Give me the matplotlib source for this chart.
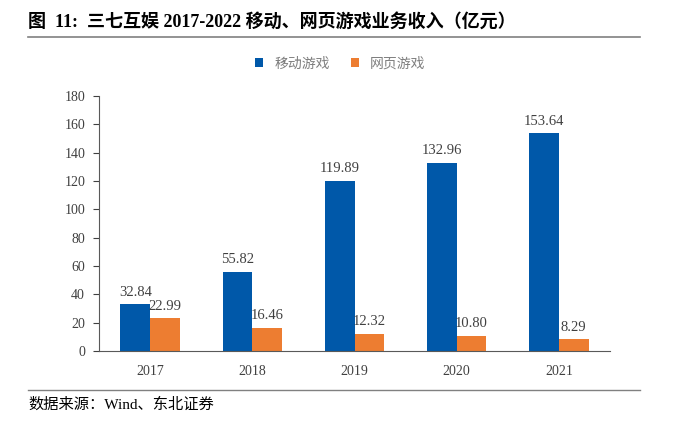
import matplotlib.pyplot as plt
import numpy as np
from matplotlib.lines import Line2D

plt.rcParams['font.family'] = ['Liberation Serif', 'Noto Sans CJK SC']

years = ['2017', '2018', '2019', '2020', '2021']
mobile = [32.84, 55.82, 119.89, 132.96, 153.64]
web = [22.99, 16.46, 12.32, 10.80, 8.29]
mobile_labels = ['32.84', '55.82', '119.89', '132.96', '153.64']
web_labels = ['22.99', '16.46', '12.32', '10.80', '8.29']

blue = '#0058A9'
orange = '#ED7D31'
gray = '#404040'

fig = plt.figure(figsize=(6.74, 4.24), dpi=100)
ax = fig.add_axes([99 / 674, 1 - 351 / 424, 511 / 674, 255 / 424])

x = np.arange(len(years))
w = 0.29
b1 = ax.bar(x - w / 2, mobile, w, color=blue, label='移动游戏')
b2 = ax.bar(x + w / 2, web, w, color=orange, label='网页游戏')

for xi, v, s in zip(x, mobile, mobile_labels):
    ax.text(xi - w / 2, v + 4, s, ha='center', va='bottom', fontsize=10.5, color=gray)
for xi, v, s in zip(x, web, web_labels):
    ax.text(xi + w / 2, v + 4, s, ha='center', va='bottom', fontsize=10.5, color=gray)

ax.set_xlim(-0.5, len(years) - 0.5)
ax.set_ylim(0, 180)
ax.set_yticks(range(0, 181, 20))
ax.set_xticks(x)
ax.set_xticklabels(years)
ax.tick_params(axis='x', length=0, pad=10, labelsize=10, colors=gray)
ax.tick_params(axis='y', length=4, pad=6, labelsize=10, colors=gray)
for side in ['top', 'right']:
    ax.spines[side].set_visible(False)
ax.spines['left'].set_color('#595959')
ax.spines['bottom'].set_color('#595959')

ax.legend(handles=[b1, b2], loc='center', bbox_to_anchor=(0.505, 1 - 64 / 424),
          bbox_transform=fig.transFigure, ncol=2, frameon=False, fontsize=10,
          handlelength=0.6, handleheight=0.6, columnspacing=1.5, labelcolor='#7f7f7f')

fig.text(28 / 674, 1 - 22 / 424, '图  11:  三七互娱 2017-2022 移动、网页游戏业务收入（亿元）',
         fontsize=13, fontweight='bold', va='center', ha='left', color='black')
fig.add_artist(Line2D([28 / 674, 640 / 674], [1 - 37 / 424] * 2, color='#808080', lw=1.2))
fig.add_artist(Line2D([28 / 674, 640 / 674], [1 - 390 / 424] * 2, color='#808080', lw=1.0))
fig.text(28 / 674, 1 - 405 / 424, '数据来源：Wind、东北证券', fontsize=11, va='center', ha='left', color='black')

fig.savefig('out.png', dpi=100)
